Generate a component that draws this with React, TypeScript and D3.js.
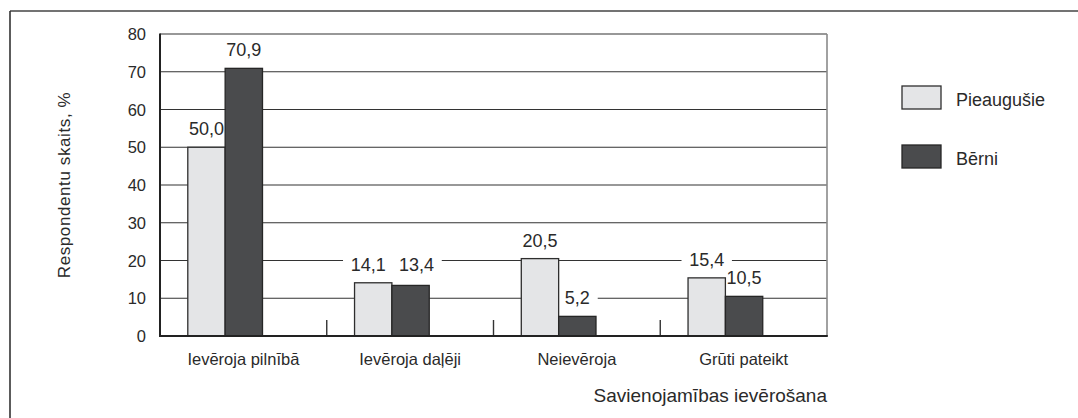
import React from 'react';
import * as d3 from 'd3';

const categories = ['Ievēroja pilnībā', 'Ievēroja daļēji', 'Neievēroja', 'Grūti pateikt'];
const seriesNames = ['Pieaugušie', 'Bērni'];
const adults = [50.0, 14.1, 20.5, 15.4];
const children = [70.9, 13.4, 5.2, 10.5];
const yTicks = [0, 10, 20, 30, 40, 50, 60, 70, 80];
const yTitle = 'Respondentu skaits, %';
const xTitle = 'Savienojamības ievērošana';

const W = 1078;
const H = 418;
const FONT = '"Liberation Sans", Arial, Helvetica, sans-serif';
const COLORS = ['#e4e5e7', '#4a4b4d'];
const STROKES = ['#2e2e2e', '#262626'];
const TEXT = '#2a2a2a';

export default function App() {
  const left = 160, right = 827, top = 34, bottom = 336;
  const x = d3.scaleBand<string>().domain(categories).range([left, right]);
  const step = x.step();
  const xs = d3.scaleBand<string>().domain(seriesNames).range([step / 6, step / 6 + 0.448 * step]);
  const y = d3.scaleLinear().domain([0, 80]).range([bottom, top]);
  const fmt = (v: number) => d3.format('.1f')(v).replace('.', ',');
  const data = [adults, children];

  const bars: any[] = [];
  categories.forEach((c, i) => {
    const close = Math.abs(y(adults[i]) - y(children[i])) < 14;
    seriesNames.forEach((s, j) => {
      const v = data[j][i];
      const ly = close ? Math.min(y(adults[i]), y(children[i])) : y(v);
      const dx = close ? (j === 0 ? -5 : 6) : 0;
      bars.push({ c, s, j, v, x: (x(c) as number) + (xs(s) as number), w: xs.bandwidth(), y: y(v), ly, dx });
    });
  });

  return (
    <svg width={W} height={H} style={{ position: 'absolute', left: 0, top: 0, background: '#fff' }} fontFamily={FONT}>
      {/* outer frame (top and left) */}
      <line x1={10} x2={W} y1={11} y2={11} stroke="#444" strokeWidth={1.6} />
      <line x1={10} x2={10} y1={11} y2={H} stroke="#333" strokeWidth={1.6} />

      {/* gridlines */}
      {yTicks.filter(t => t > 0).map(t => (
        <line key={'g' + t} x1={left} x2={right} y1={y(t)} y2={y(t)} stroke="#333" strokeWidth={1.1} />
      ))}
      {/* right border */}
      <line x1={right} x2={right} y1={top} y2={bottom} stroke="#8a8a8a" strokeWidth={1.6} />

      {/* label backgrounds */}
      {bars.map((b, k) => {
        const tw = fmt(b.v).length * 9.6;
        return (
          <rect key={'lb' + k} x={b.x + b.w / 2 + b.dx - tw / 2 - 6} y={b.ly - 26} width={tw + 12} height={18} fill="#fff" />
        );
      })}

      {/* bars */}
      {bars.map((b, k) => (
        <rect key={'b' + k} x={b.x} y={b.y} width={b.w} height={bottom - b.y}
          fill={COLORS[b.j]} stroke={STROKES[b.j]} strokeWidth={1.3} />
      ))}

      {/* value labels */}
      {bars.map((b, k) => (
        <text key={'t' + k} x={b.x + b.w / 2 + b.dx} y={b.ly - 12} textAnchor="middle" fontSize={18} fill={TEXT}>
          {fmt(b.v)}
        </text>
      ))}

      {/* category separator ticks */}
      {categories.slice(1).map(c => (
        <line key={'ct' + c} x1={x(c) as number} x2={x(c) as number} y1={bottom - 16} y2={bottom} stroke="#333" strokeWidth={1.4} />
      ))}

      {/* axes */}
      <line x1={left} x2={left} y1={top - 0.5} y2={bottom + 1} stroke="#222" strokeWidth={2} />
      <line x1={left - 1} x2={right + 0.8} y1={bottom} y2={bottom} stroke="#222" strokeWidth={2} />

      {/* y tick labels */}
      {yTicks.map(t => (
        <text key={'yt' + t} x={146} y={y(t) + 6} textAnchor="end" fontSize={16.5} fill={TEXT}>{t}</text>
      ))}

      {/* category labels */}
      {categories.map(c => (
        <text key={'cl' + c} x={(x(c) as number) + step / 2} y={365} textAnchor="middle" fontSize={16.5} fill={TEXT}>{c}</text>
      ))}

      {/* axis titles */}
      <text x={right} y={402} textAnchor="end" fontSize={19} fill={TEXT}>{xTitle}</text>
      <text transform={`translate(69.5,185) rotate(-90)`} textAnchor="middle" fontSize={17} letterSpacing={0.6} fill={TEXT}>{yTitle}</text>

      {/* legend */}
      {seriesNames.map((s, j) => (
        <g key={'lg' + s} transform={`translate(902,${86 + j * 59})`}>
          <rect x={0} y={0} width={39} height={23} fill={COLORS[j]} stroke={STROKES[j]} strokeWidth={1.3} />
          <text x={54} y={19.5} fontSize={18} fill={TEXT}>{s}</text>
        </g>
      ))}
    </svg>
  );
}
